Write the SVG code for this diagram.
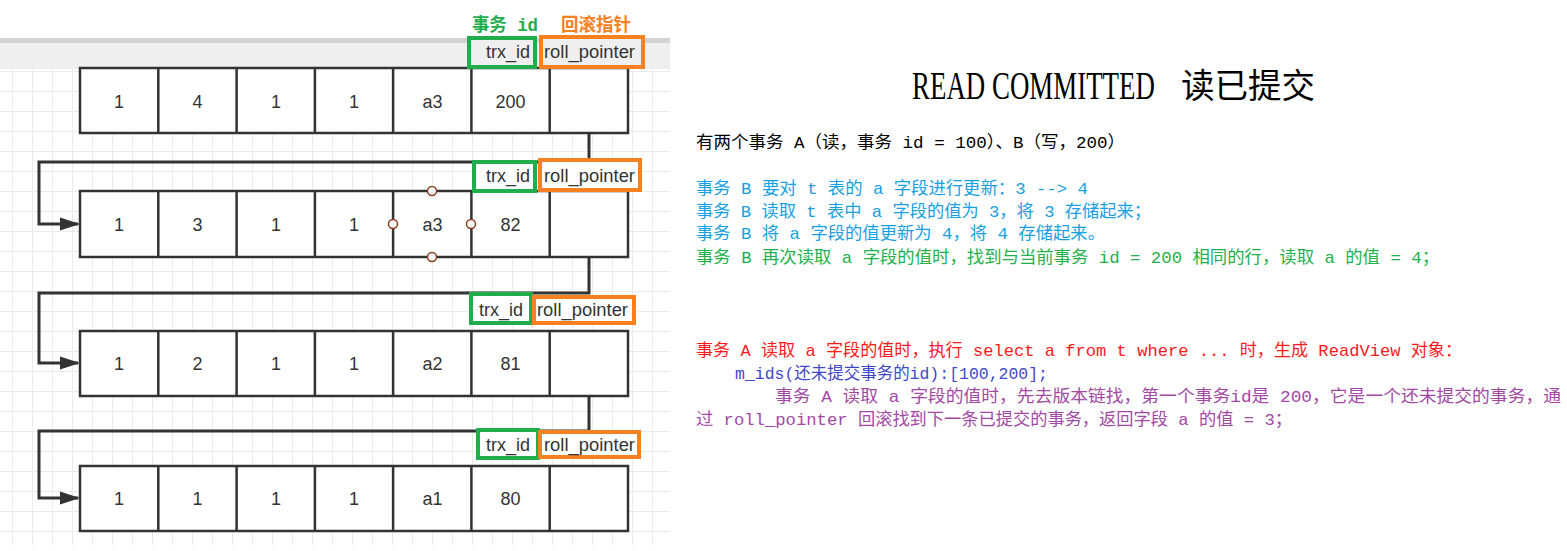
<svg xmlns="http://www.w3.org/2000/svg" width="1567" height="551" viewBox="0 0 1567 551">
<style>
.cell{fill:#fff;stroke:#333;stroke-width:2.5}
.div{stroke:#333;stroke-width:2.5}
.num{font-family:"Liberation Sans",Arial,sans-serif;font-size:18px;fill:#333;text-anchor:middle}
.lbl{font-family:"Liberation Sans",Arial,sans-serif;font-size:18px;fill:#333}
.gbox{fill:#fff;stroke:#1fae4b;stroke-width:4}
.obox{fill:#fff;stroke:#f7801f;stroke-width:4}
.conn{fill:none;stroke:#333;stroke-width:3}
.t{font-family:"Liberation Mono","Noto Sans CJK SC",monospace;font-size:17px}
.hdl{fill:#fff;stroke:#8a3b1e;stroke-width:1.5}
</style>
<defs>
<pattern id="grid" x="12" y="11" width="20" height="20" patternUnits="userSpaceOnUse">
<path d="M0.5 0V20M0 0.5H20" stroke="#ebebeb" stroke-width="1" fill="none"/>
</pattern>
<marker id="arr" markerWidth="20" markerHeight="14" refX="18" refY="7" orient="auto" markerUnits="userSpaceOnUse">
<path d="M0 0.5L20 7L0 13.5Z" fill="#333"/>
</marker>
</defs>
<rect width="1567" height="551" fill="#fff"/>
<rect x="0" y="43" width="670" height="502" fill="url(#grid)"/>
<rect x="0" y="38" width="670" height="5" fill="#d3d3d3"/>
<rect x="0" y="43" width="670" height="26" fill="#efefef"/>

<g id="connectors">
<path class="conn" d="M589 133V162H39V224H78" marker-end="url(#arr)"/>
<path class="conn" d="M589 257V293H39V363H78" marker-end="url(#arr)"/>
<path class="conn" d="M589 396V431H39V498H78" marker-end="url(#arr)"/>
</g>

<g id="row1">
<rect class="cell" x="80" y="68" width="548" height="65"/>
<path class="div" d="M158.3 68V133M236.6 68V133M314.9 68V133M393.1 68V133M471.4 68V133M549.7 68V133"/>
<text class="num" x="119" y="108">1</text><text class="num" x="197.5" y="108">4</text><text class="num" x="276" y="108">1</text><text class="num" x="354" y="108">1</text><text class="num" x="432.5" y="108">a3</text><text class="num" x="510.5" y="108">200</text>
<rect class="gbox" x="469" y="38" width="66" height="29" style="fill:#efefef"/>
<rect class="obox" x="541" y="37" width="102" height="30" style="fill:#efefef"/>
<text class="lbl" x="486" y="58" textLength="44" lengthAdjust="spacingAndGlyphs">trx_id</text>
<text class="lbl" x="544" y="58" textLength="91" lengthAdjust="spacingAndGlyphs">roll_pointer</text>
</g>

<g id="row2">
<rect class="cell" x="80" y="191" width="548" height="66"/>
<path class="div" d="M158.3 191V257M236.6 191V257M314.9 191V257M393.1 191V257M471.4 191V257M549.7 191V257"/>
<text class="num" x="119" y="231">1</text><text class="num" x="197.5" y="231">3</text><text class="num" x="276" y="231">1</text><text class="num" x="354" y="231">1</text><text class="num" x="432.5" y="231">a3</text><text class="num" x="510.5" y="231">82</text>
<circle class="hdl" cx="432" cy="191" r="4.5"/><circle class="hdl" cx="393" cy="224" r="4.5"/><circle class="hdl" cx="471" cy="224" r="4.5"/><circle class="hdl" cx="432" cy="257" r="4.5"/>
<rect class="gbox" x="474" y="162" width="61" height="29"/>
<rect class="obox" x="540" y="160" width="100" height="30"/>
<text class="lbl" x="486" y="182" textLength="44" lengthAdjust="spacingAndGlyphs">trx_id</text>
<text class="lbl" x="544" y="182" textLength="91" lengthAdjust="spacingAndGlyphs">roll_pointer</text>
</g>

<g id="row3">
<rect class="cell" x="80" y="331" width="548" height="65"/>
<path class="div" d="M158.3 331V396M236.6 331V396M314.9 331V396M393.1 331V396M471.4 331V396M549.7 331V396"/>
<text class="num" x="119" y="370">1</text><text class="num" x="197.5" y="370">2</text><text class="num" x="276" y="370">1</text><text class="num" x="354" y="370">1</text><text class="num" x="432.5" y="370">a2</text><text class="num" x="510.5" y="370">81</text>
<rect class="gbox" x="471" y="294" width="60" height="29"/>
<rect class="obox" x="534" y="297" width="100" height="26"/>
<text class="lbl" x="479" y="316" textLength="44" lengthAdjust="spacingAndGlyphs">trx_id</text>
<text class="lbl" x="537" y="316" textLength="91" lengthAdjust="spacingAndGlyphs">roll_pointer</text>
</g>

<g id="row4">
<rect class="cell" x="80" y="466" width="548" height="65"/>
<path class="div" d="M158.3 466V531M236.6 466V531M314.9 466V531M393.1 466V531M471.4 466V531M549.7 466V531"/>
<text class="num" x="119" y="505">1</text><text class="num" x="197.5" y="505">1</text><text class="num" x="276" y="505">1</text><text class="num" x="354" y="505">1</text><text class="num" x="432.5" y="505">a1</text><text class="num" x="510.5" y="505">80</text>
<rect class="gbox" x="478" y="430" width="60" height="28"/>
<rect class="obox" x="540" y="432" width="99" height="25"/>
<text class="lbl" x="486" y="451" textLength="44" lengthAdjust="spacingAndGlyphs">trx_id</text>
<text class="lbl" x="544" y="451" textLength="91" lengthAdjust="spacingAndGlyphs">roll_pointer</text>
</g>

<g id="top-labels">
<text x="472" y="31" textLength="66" lengthAdjust="spacingAndGlyphs" style="font-family:'Liberation Mono','Noto Sans CJK SC',monospace;font-size:18px;font-weight:bold;fill:#1fae4b">事务 id</text>
<text x="561" y="31" textLength="70" lengthAdjust="spacingAndGlyphs" style="font-family:'Noto Sans CJK SC',sans-serif;font-size:18px;font-weight:bold;fill:#f7801f">回滚指针</text>
</g>

<g id="title">
<text transform="translate(912,99) scale(0.69,1)" x="0" y="0" style="font-family:'Liberation Serif',serif;font-size:39px;fill:#000">READ COMMITTED</text>
<text x="1181" y="98" textLength="134" lengthAdjust="spacingAndGlyphs" style="font-family:'Noto Sans CJK SC',sans-serif;font-size:34px;fill:#000">读已提交</text>
</g>

<g id="notes">
<text class="t" x="696" y="148" textLength="429" lengthAdjust="spacingAndGlyphs" fill="#000">有两个事务 A（读，事务 id = 100）、B（写，200）</text>
<text class="t" x="696" y="194" textLength="392" lengthAdjust="spacingAndGlyphs" fill="#17a0e2">事务 B 要对 t 表的 a 字段进行更新：3 --&gt; 4</text>
<text class="t" x="696" y="217" textLength="455" lengthAdjust="spacingAndGlyphs" fill="#17a0e2">事务 B 读取 t 表中 a 字段的值为 3，将 3 存储起来；</text>
<text class="t" x="696" y="239" textLength="409" lengthAdjust="spacingAndGlyphs" fill="#17a0e2">事务 B 将 a 字段的值更新为 4，将 4 存储起来。</text>
<text class="t" x="696" y="263" textLength="743" lengthAdjust="spacingAndGlyphs" fill="#22b14c">事务 B 再次读取 a 字段的值时，找到与当前事务 id = 200 相同的行，读取 a 的值 = 4；</text>
<text class="t" x="696" y="356" textLength="766" lengthAdjust="spacingAndGlyphs" fill="#ff1a1a">事务 A 读取 a 字段的值时，执行 select a from t where ... 时，生成 ReadView 对象：</text>
<text class="t" x="735" y="379" textLength="313" lengthAdjust="spacingAndGlyphs" fill="#3f48cc">m_ids(还未提交事务的id):[100,200];</text>
<text class="t" x="775" y="402" textLength="786" lengthAdjust="spacingAndGlyphs" fill="#a349a4">事务 A 读取 a 字段的值时，先去版本链找，第一个事务id是 200，它是一个还未提交的事务，通</text>
<text class="t" x="696" y="425" textLength="596" lengthAdjust="spacingAndGlyphs" fill="#a349a4">过 roll_pointer 回滚找到下一条已提交的事务，返回字段 a 的值 = 3；</text>
</g>
</svg>
